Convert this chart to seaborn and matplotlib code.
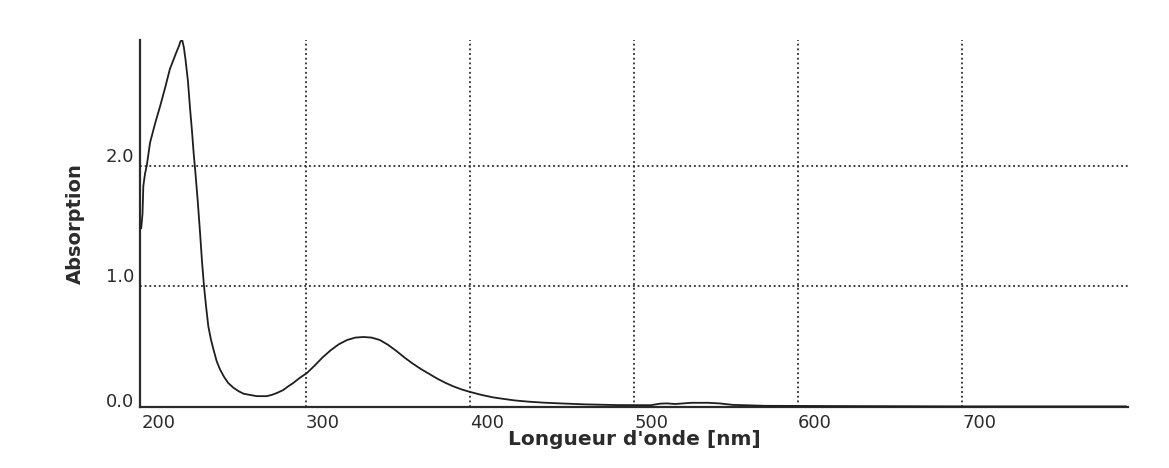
import matplotlib
matplotlib.use("Agg")
import matplotlib.pyplot as plt
import numpy as np
import pandas as pd
import seaborn as sns

# spectrum (wavelength in nm, absorbance)
wavelength = [199.5, 200.3, 200.8, 201.8, 202.9, 204.9, 208, 211, 214, 217, 219, 221,
              222.5, 223.5, 224.5, 225.5, 226.5, 228, 229.3, 230.5, 231.5, 232.5,
              234, 235.4, 236.6, 237.8, 239, 240.4, 242, 243.5, 245.5, 247.6, 250,
              252.5, 255.7, 259, 262, 265.9, 270, 276, 279, 282, 286, 289, 292.3,
              296, 300.4, 305, 310, 315, 320, 325, 330, 335, 340, 345, 350, 355,
              360, 365, 370, 375, 380, 385, 390, 395, 400, 407, 414, 420, 427,
              435, 445, 455, 470, 490, 510, 516, 520, 525, 530, 535, 545, 552,
              560, 580, 620, 700, 800]
absorbance = [1.48, 1.6, 1.83, 1.93, 2.0, 2.19, 2.35, 2.49, 2.64, 2.8, 2.87, 2.94,
              2.99, 3.03, 3.04, 2.98, 2.88, 2.7, 2.47, 2.28, 2.1, 1.95,
              1.7, 1.44, 1.2, 1.0, 0.84, 0.67, 0.56, 0.48, 0.38, 0.31, 0.25,
              0.2, 0.16, 0.13, 0.11, 0.1, 0.09, 0.09, 0.1, 0.115, 0.14, 0.17, 0.2,
              0.24, 0.28, 0.34, 0.41, 0.47, 0.52, 0.555, 0.575, 0.58, 0.575, 0.555,
              0.515, 0.465, 0.41, 0.36, 0.315, 0.275, 0.235, 0.2, 0.17, 0.145,
              0.125, 0.1, 0.08, 0.068, 0.055, 0.045, 0.036, 0.03, 0.022, 0.016,
              0.015, 0.028, 0.03, 0.025, 0.03, 0.035, 0.035, 0.03, 0.018, 0.01,
              0.008, 0.005, 0.005]

x_ticks = [200, 300, 400, 500, 600, 700]
x_grid = [300, 400, 500, 600, 700]
y_ticks = [0.0, 1.0, 2.0]
y_grid = [1.0, 2.0]

df = pd.DataFrame({"nm": wavelength, "abs": absorbance})

sns.set_style("white")
plt.rcParams["font.family"] = ["DejaVu Sans"]

ink = "#2b2b2b"
fig = plt.figure(figsize=(11.69, 4.68), dpi=100)
ax = fig.add_axes([0.1198, 0.1303, 0.845, 0.7842])

# dotted grid like the instrument printout
for gx in x_grid:
    ax.axvline(gx, color=ink, lw=1.3, ls=(0, (1, 1.6)), zorder=1)
for gy in y_grid:
    ax.axhline(gy, color=ink, lw=1.3, ls=(0, (1, 1.6)), zorder=1)

sns.lineplot(data=df, x="nm", y="abs", ax=ax, color="#1e1e1e", lw=1.3,
             estimator=None, sort=False, zorder=3)

ax.set_xlim(198.8, 801)
ax.set_ylim(0, 3.04)

for side in ["top", "right"]:
    ax.spines[side].set_visible(False)
for side in ["left", "bottom"]:
    ax.spines[side].set_color(ink)
    ax.spines[side].set_linewidth(1.6)

ax.set_xticks(x_ticks)
ax.set_xticklabels([str(v) for v in x_ticks])
ax.set_yticks(y_ticks)
ax.set_yticklabels([f"{v:.1f}" for v in y_ticks])
ax.tick_params(axis="both", length=0, labelsize=13, colors=ink)
ax.tick_params(axis="x", pad=5)
ax.tick_params(axis="y", pad=4)
for lab in ax.get_xticklabels():
    lab.set_ha("left")
for lab in ax.get_yticklabels():
    lab.set_va("bottom")
ax.get_yticklabels()[0].set_va("baseline")

ax.set_xlabel("Longueur d'onde [nm]", fontsize=14.5, fontweight="bold", color=ink)
ax.set_ylabel("Absorption", fontsize=14, fontweight="bold", color=ink, va="center")
ax.xaxis.set_label_coords(0.5, -0.062)
ax.yaxis.set_label_coords(-0.065, 0.5)

fig.savefig("out.png", dpi=100, facecolor="white")
